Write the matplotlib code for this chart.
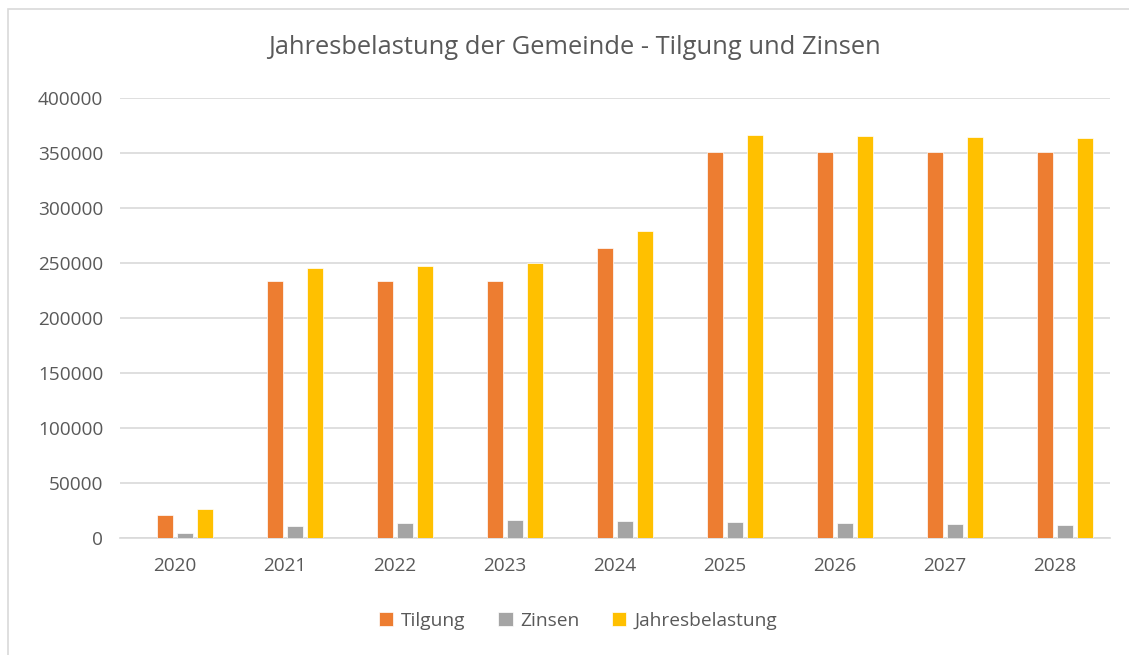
import matplotlib
matplotlib.use("Agg")
import matplotlib.pyplot as plt
import numpy as np
from matplotlib.patches import Rectangle

years = ["2020", "2021", "2022", "2023", "2024", "2025", "2026", "2027", "2028"]
tilgung = [21000, 234000, 234000, 234000, 263500, 351000, 351000, 351000, 351000]
zinsen = [5000, 11000, 13500, 16000, 15500, 14500, 13600, 12700, 11800]
jahresbelastung = [26000, 245500, 247500, 250000, 279000, 366500, 365500, 364500, 363600]
series_names = ["Tilgung", "Zinsen", "Jahresbelastung"]
colors = ["#ED7D31", "#A5A5A5", "#FFC000"]
yticks = [0, 50000, 100000, 150000, 200000, 250000, 300000, 350000, 400000]

W, H = 1129, 655
fig = plt.figure(figsize=(W / 100, H / 100), dpi=100)
fig.patch.set_facecolor("white")

# chart border (only top/left visible in reference)
fig.patches.append(Rectangle((8 / W, -0.02), 1.1, (H - 9) / H + 0.02,
                             transform=fig.transFigure, fill=False,
                             edgecolor="#D9D9D9", linewidth=1.2))

ax = fig.add_axes([120 / W, (H - 538) / H, 990 / W, 440 / H])
x = np.arange(len(years))
# four series slots in the original chart, the first one empty
offs = [-0.087, 0.095, 0.277]
bw = 0.145
for vals, off, c, name in zip([tilgung, zinsen, jahresbelastung], offs, colors, series_names):
    ax.bar(x + off, vals, width=bw, color=c, edgecolor="white", linewidth=0.5,
           label=name, zorder=3)

ax.set_xlim(-0.5, len(years) - 0.5)
ax.set_ylim(0, 400000)
ax.set_yticks(yticks)
ax.set_yticklabels([str(v) for v in yticks])
ax.set_xticks(x)
ax.set_xticklabels(years)
ax.grid(axis="y", color="#D9D9D9", linewidth=1.2, zorder=0)
for s in ["top", "right", "left"]:
    ax.spines[s].set_visible(False)
ax.spines["bottom"].set_color("#D9D9D9")
ax.spines["bottom"].set_linewidth(1.2)
ax.tick_params(axis="both", length=0, colors="#595959", labelsize=13.7)
ax.tick_params(axis="y", pad=12)
ax.tick_params(axis="x", pad=14)
for lab in ax.get_xticklabels() + ax.get_yticklabels():
    lab.set_fontfamily("Open Sans")

fig.text(574 / W, 1 - 47 / H, "Jahresbelastung der Gemeinde - Tilgung und Zinsen",
         ha="center", va="center", fontsize=18.4, color="#595959", family="Open Sans")

leg = fig.legend(loc="center", bbox_to_anchor=(578 / W, 1 - 621 / H), ncol=3,
                 frameon=False, handlelength=0.75, handleheight=0.75,
                 handletextpad=0.4, columnspacing=1.7,
                 prop={"family": "Open Sans", "size": 13.8})
for t in leg.get_texts():
    t.set_color("#595959")

fig.savefig("out.png", dpi=100)
